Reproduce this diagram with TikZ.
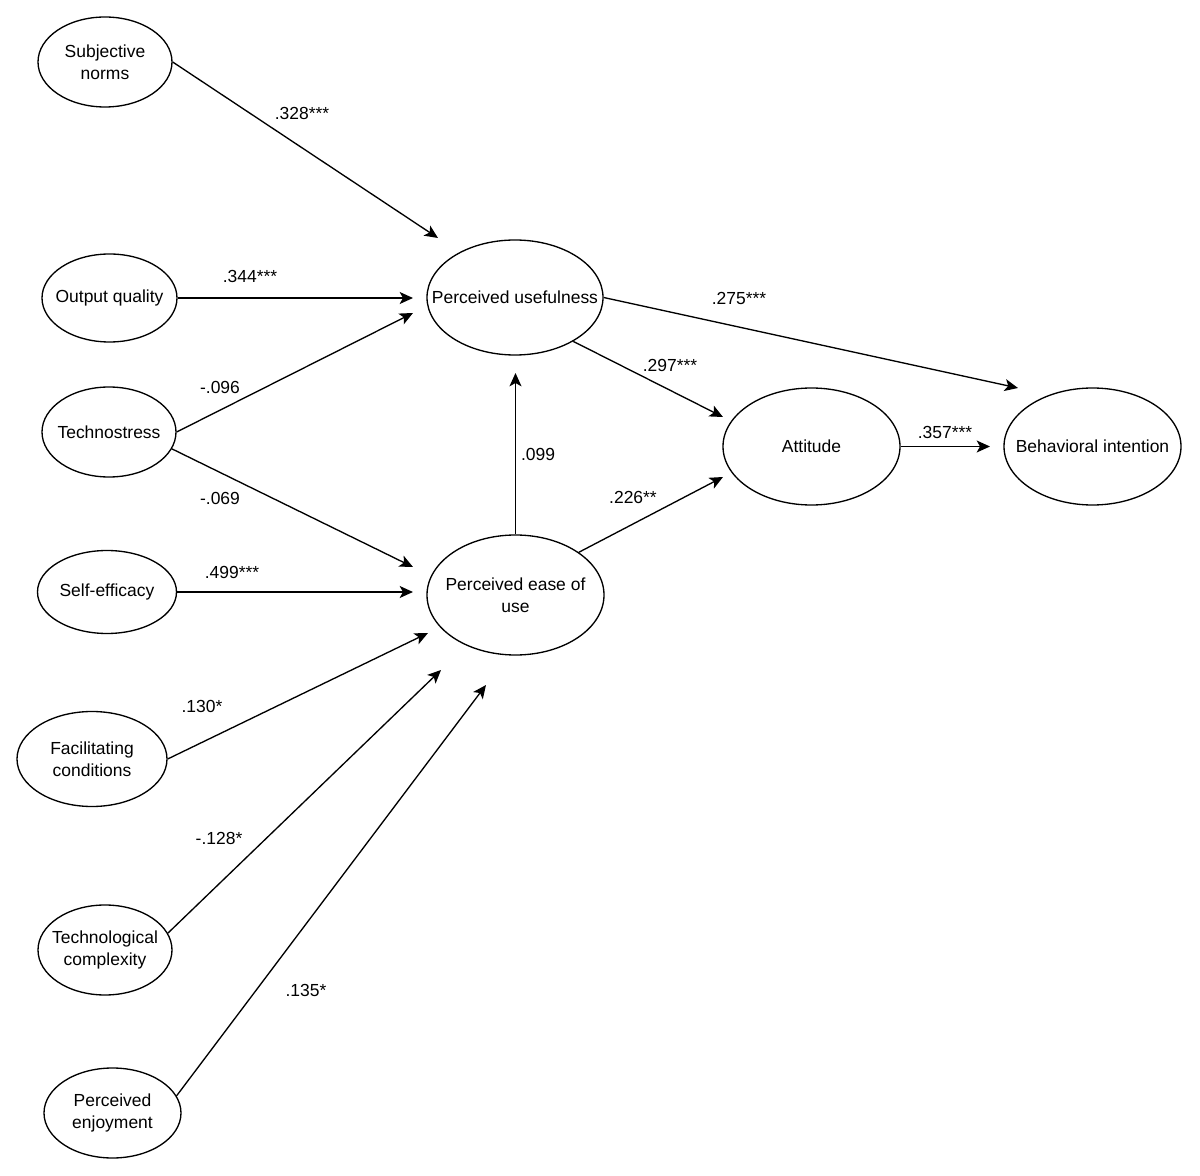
\documentclass[tikz,border=0pt]{standalone}
\usepackage{fontspec}
\setmainfont{Liberation Sans}
\usetikzlibrary{shapes.geometric,arrows.meta}
\tikzset{
	construct/.style={draw,ellipse,line width=1pt,inner sep=-60pt,align=center,font=\fontsize{13.1}{16.5}\selectfont},
	link/.style={-{Stealth[length=10pt,width=9pt,inset=2.5pt]},line width=1pt},
	coef/.style={font=\fontsize{13.1}{16}\selectfont}
}
\begin{document}
\begin{tikzpicture}[x=0.75pt,y=-0.75pt]
		\useasboundingbox (0,0) rectangle (1200,1176);
		\node[construct,minimum width=100.5pt,minimum height=67.5pt] (sn) at (105,62) {Subjective\\norms};
		\node[construct,minimum width=101.25pt,minimum height=66pt] (oq) at (109.5,298) {Output quality};
		\node[construct,minimum width=100.5pt,minimum height=67.5pt] (ts) at (109,432) {Technostress};
		\node[construct,minimum width=104.25pt,minimum height=62.25pt] (se) at (107,592) {Self-efficacy};
		\node[construct,minimum width=112.5pt,minimum height=71.25pt] (fc) at (92,759) {Facilitating\\conditions};
		\node[construct,minimum width=100.5pt,minimum height=67.5pt] (tc) at (105,950) {Technological\\complexity};
		\node[construct,minimum width=102.75pt,minimum height=67.5pt] (pe) at (112.5,1113) {Perceived\\enjoyment};
		\node[construct,minimum width=132pt,minimum height=86.25pt] (pu) at (515,297.5) {Perceived usefulness};
		\node[construct,minimum width=132.75pt,minimum height=90pt] (peou) at (515.5,595) {Perceived ease of\\use};
		\node[construct,minimum width=132.75pt,minimum height=87.75pt] (att) at (811.5,446.5) {Attitude};
		\node[construct,minimum width=132.75pt,minimum height=87.75pt] (bi) at (1092.5,446.5) {Behavioral intention};
		\coordinate (sn-pu) at (438,238);
		\coordinate (oq-pu) at (413,298);
		\coordinate (ts-pu) at (413,313);
		\coordinate (ts-peou) at (413,567);
		\coordinate (se-peou) at (413,592);
		\coordinate (fc-peou) at (428,633);
		\coordinate (tc-peou) at (441,670);
		\coordinate (pe-peou) at (486,685);
		\coordinate (peou-pu) at (515.5,373);
		\coordinate (pu-att) at (723,417);
		\coordinate (pu-bi) at (1018,388);
		\coordinate (peou-att) at (723,477);
		\coordinate (att-bi) at (990,446.5);
		\draw[link] (sn.east) -- (sn-pu);
		\draw[link] (oq.east) -- (oq-pu);
		\draw[link] (ts.east) -- (ts-pu);
		\draw[link] (ts.-15) -- (ts-peou);
		\draw[link] (se.east) -- (se-peou);
		\draw[link] (fc.east) -- (fc-peou);
		\draw[link] (tc.15) -- (tc-peou);
		\draw[link] (pe.15) -- (pe-peou);
		\draw[link] (peou.north) -- (peou-pu);
		\draw[link] (pu.-37) -- (pu-att);
		\draw[link] (pu.east) -- (pu-bi);
		\draw[link] (peou.34) -- (peou-att);
		\draw[link] (att.east) -- (att-bi);
		\node[coef] (c-sn) at (302,113) {.328***};
		\node[coef] (c-oq) at (250,276) {.344***};
		\node[coef] (c-tspu) at (220,387) {-.096};
		\node[coef] (c-tspeou) at (220,498) {-.069};
		\node[coef] (c-se) at (232,572) {.499***};
		\node[coef] (c-fc) at (202,706) {.130*};
		\node[coef] (c-tc) at (219,838) {-.128*};
		\node[coef] (c-pe) at (306,990) {.135*};
		\node[coef] (c-peou) at (538,454) {.099};
		\node[coef] (c-puatt) at (670,365) {.297***};
		\node[coef] (c-peouatt) at (633,497) {.226**};
		\node[coef] (c-pubi) at (739,298) {.275***};
		\node[coef] (c-att) at (945,432) {.357***};
\end{tikzpicture}
\end{document}
